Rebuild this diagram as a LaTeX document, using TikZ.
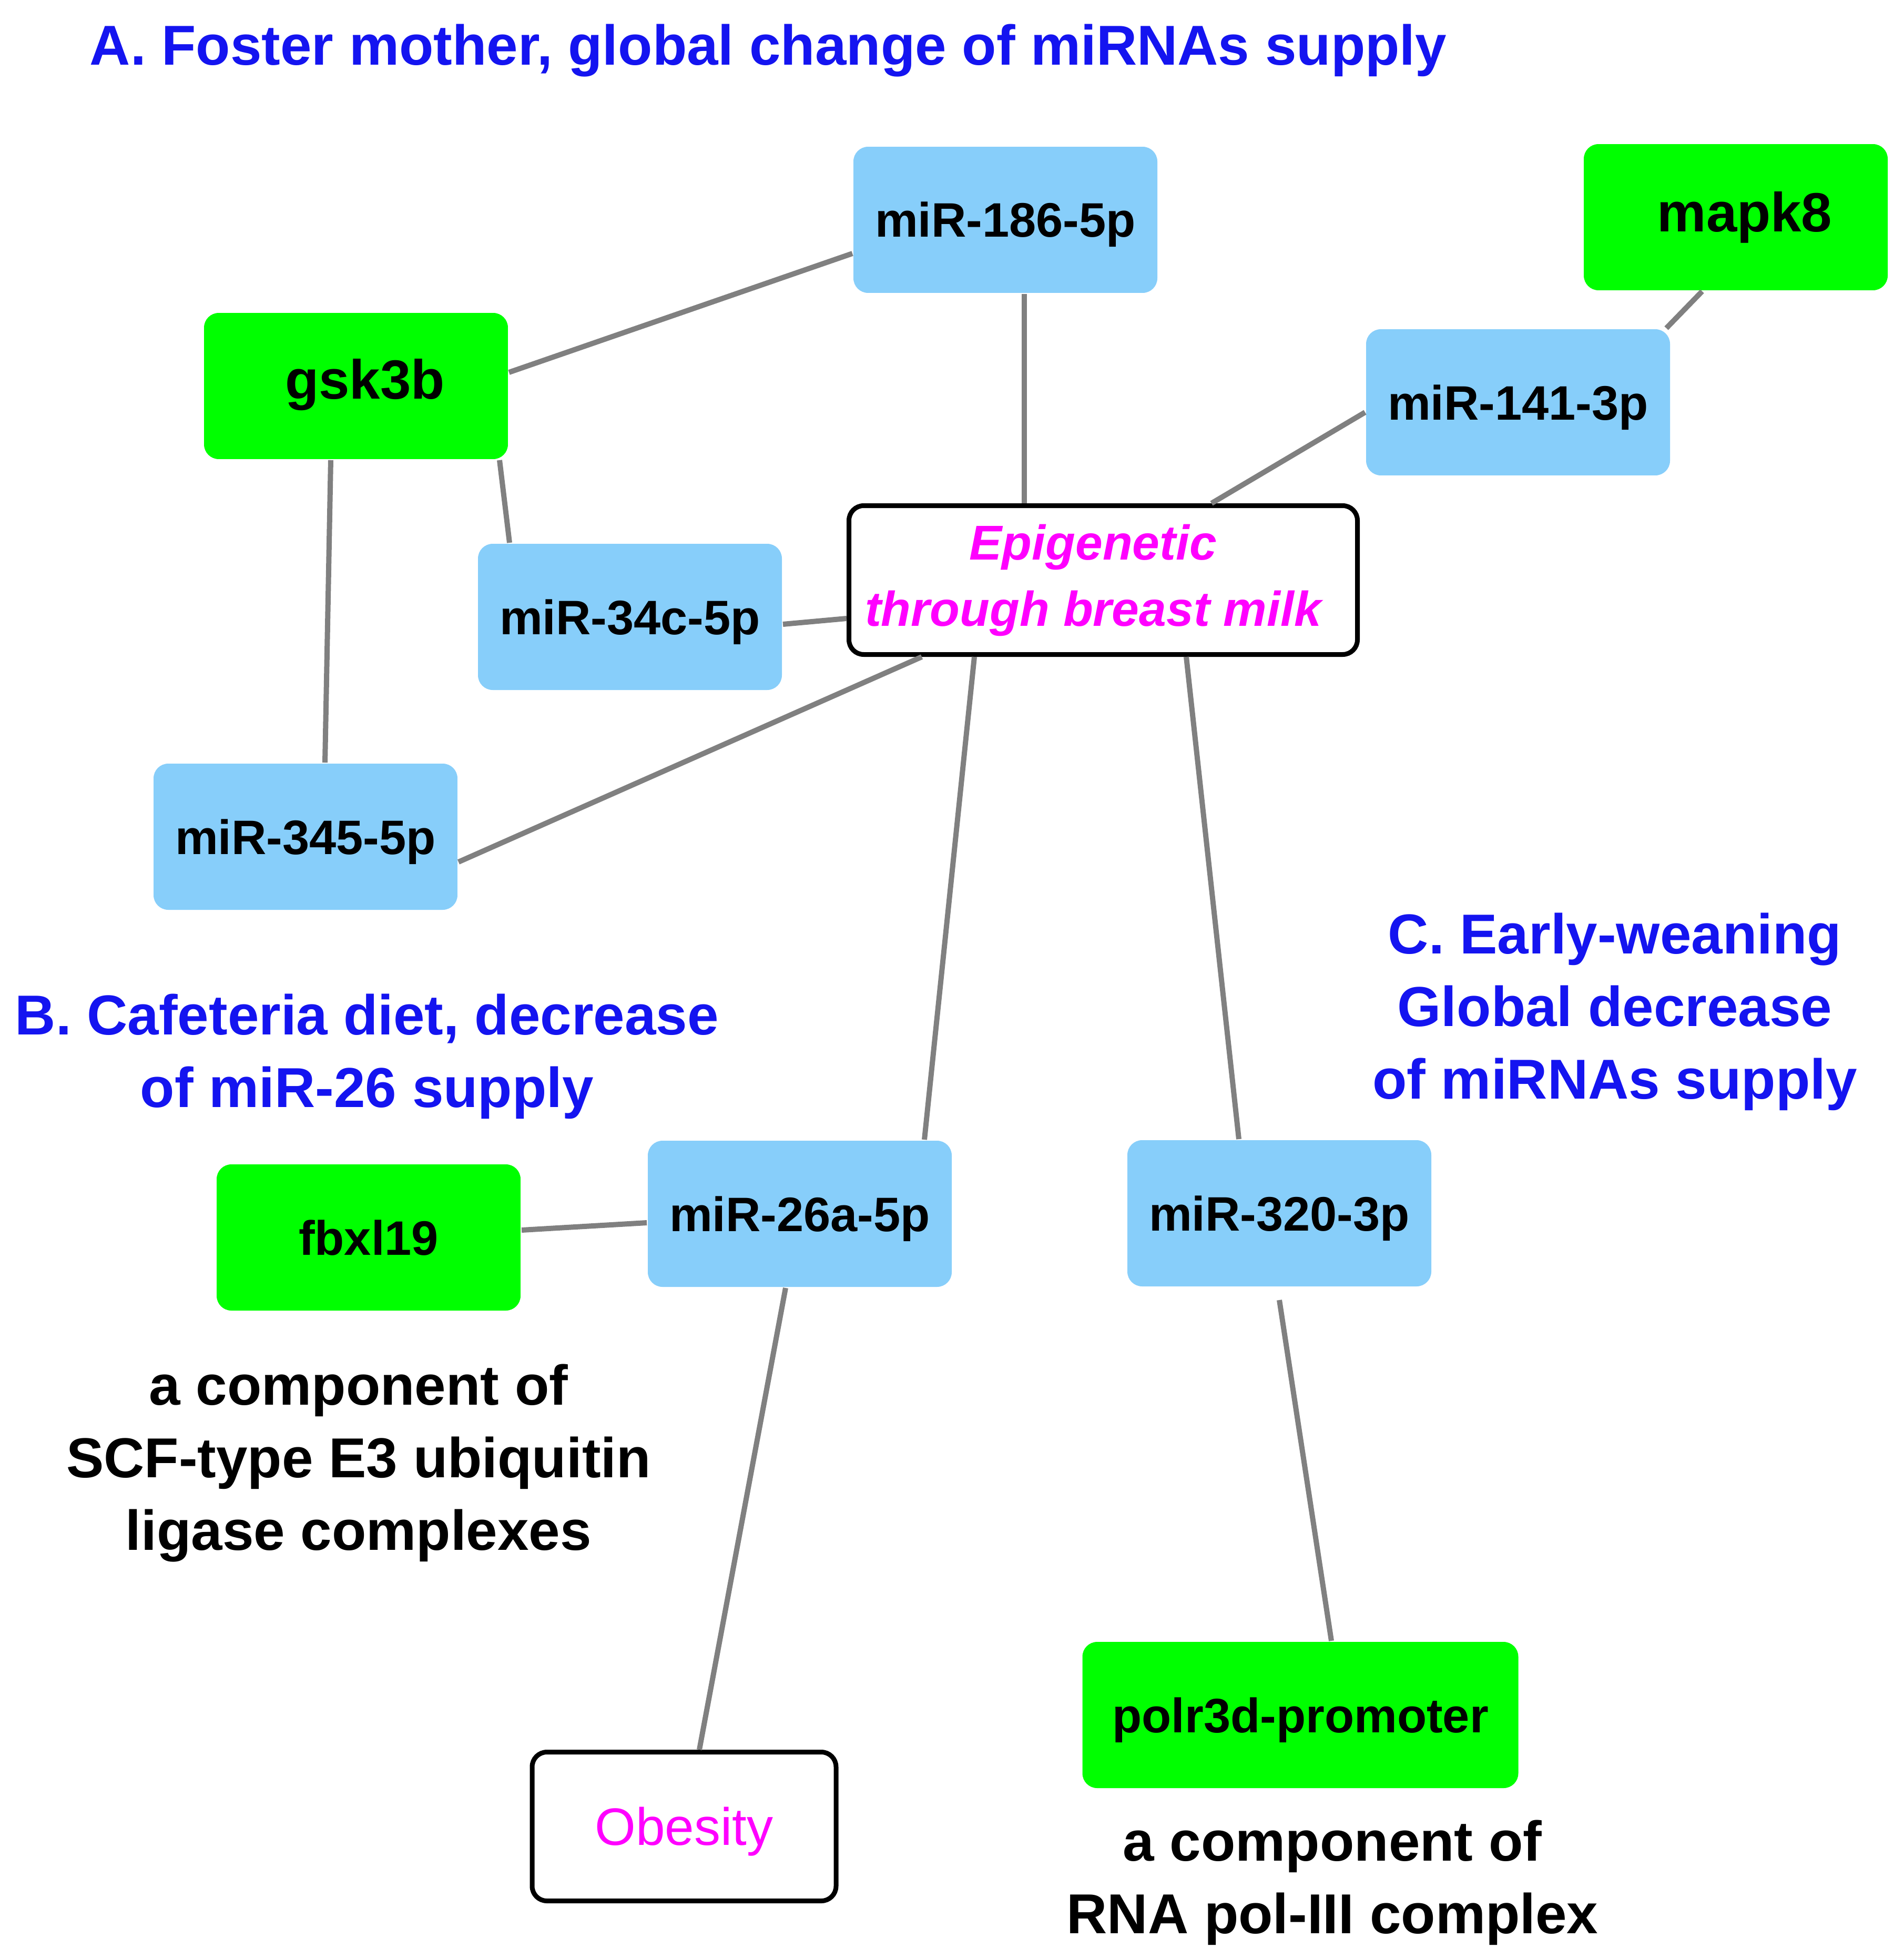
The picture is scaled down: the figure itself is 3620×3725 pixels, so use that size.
\documentclass[tikz,border=0pt]{standalone}
\usepackage{fontspec}
\setmainfont{Liberation Sans}
\usetikzlibrary{calc}
\definecolor{mirblue}{RGB}{135,206,250}
\definecolor{genegreen}{RGB}{0,255,0}
\definecolor{edgegray}{RGB}{128,128,128}
\definecolor{titleblue}{RGB}{20,20,240}
\definecolor{phenomag}{RGB}{255,0,255}
\begin{document}
\begin{tikzpicture}[x=0.1pt,y=-0.1pt,
  box/.style={rounded corners=2.8pt, minimum width=57.8pt, minimum height=27.8pt, inner sep=0pt, align=center},
  mir/.style={box, fill=mirblue, text height=6.6pt, text depth=0pt, font=\fontsize{9.2}{11}\selectfont\bfseries},
  genebig/.style={box, fill=genegreen, font=\fontsize{10.5}{12}\selectfont\bfseries},
  gene/.style={box, fill=genegreen, text height=6.6pt, text depth=0pt, font=\fontsize{9.2}{11}\selectfont\bfseries},
  pheno/.style={box, fill=white, draw=black, line width=0.9pt, text=phenomag},
  edge/.style={draw=edgegray, line width=1pt},
  heading/.style={text=titleblue, font=\fontsize{10.7}{13.8}\selectfont\bfseries, align=center, inner sep=0pt},
  note/.style={text=black, font=\fontsize{10.7}{13.8}\selectfont\bfseries, align=center, inner sep=0pt}]
\fill[white] (0,0) rectangle (3620,3725);
\useasboundingbox (0,0) rectangle (3620,3725);

% headings
\node[heading] (ta) at (1461,96) {A. Foster mother, global change of miRNAs supply};
\node[heading] (tb) at (698,2009) {B. Cafeteria diet, decrease\\of miR-26 supply};
\node[heading] (tc) at (3071,1924) {C. Early-weaning\\Global decrease\\of miRNAs supply};
\node[note] (nscf) at (682,2782) {a component of\\SCF-type E3 ubiquitin\\ligase complexes};
\node[note] (nrna) at (2534,3580) {a component of\\RNA pol-III complex};

% nodes
\node[mir] (m186) at (1912,418) {miR-186-5p};
\node[genebig] (mapk) at (3301,413) {\raisebox{1pt}{\hspace*{3.4pt}mapk8}};
\node[genebig] (gsk) at (677,734) {\raisebox{2.8pt}{\hspace*{3.4pt}gsk3b}};
\node[mir] (m141) at (2887,765) {miR-141-3p};
\node[mir] (m34) at (1198,1173) {miR-34c-5p};
\node[pheno, minimum width=96.7pt, minimum height=28.3pt, font=\fontsize{9.3}{12.6}\selectfont\bfseries\itshape] (epi) at (2098,1103) {\hspace*{-3.8pt}Epigenetic\\\hspace*{-3.8pt}through breast milk};
\node[mir] (m345) at (581,1591) {miR-345-5p};
\node[mir] (m26) at (1521,2308) {miR-26a-5p};
\node[mir] (m320) at (2433,2307) {miR-320-3p};
\node[gene] (fbx) at (701,2353) {fbxl19};
\node[gene, minimum width=82.9pt] (polr) at (2473,3261) {polr3d-promoter};
\node[pheno, minimum height=28.3pt, text height=7pt, text depth=0pt, font=\fontsize{10}{12}\selectfont] (obes) at (1301,3473) {Obesity};

% edges
\draw[edge] ($(gsk.east)+(0,-26)$) -- ($(m186.west)+(0,64)$);
\draw[edge] ($(m186.south)+(36,0)$) -- ($(epi.north)+(-150,0)$);
\draw[edge] ($(mapk.south)+(-64,0)$) -- ($(m141.north east)+(-9,0)$);
\draw[edge] ($(m141.west)+(0,19)$) -- ($(epi.north)+(206,0)$);
\draw[edge] ($(gsk.south)+(273,0)$) -- ($(m34.north)+(-229,0)$);
\draw[edge] ($(gsk.south)+(-48,0)$) -- ($(m345.north)+(37,0)$);
\draw[edge] ($(m34.east)+(0,14)$) -- ($(epi.west)+(0,73)$);
\draw[edge] ($(m345.east)+(0,48)$) -- ($(epi.south)+(-345,0)$);
\draw[edge] ($(epi.south)+(-245,0)$) -- ($(m26.north)+(237,0)$);
\draw[edge] ($(epi.south)+(158,0)$) -- ($(m320.north)+(-77,0)$);
\draw[edge] ($(fbx.east)+(0,-14)$) -- ($(m26.west)+(0,17)$);
\draw[edge] ($(m26.south)+(-27,0)$) -- ($(obes.north)+(29,0)$);
\draw[edge] ($(m320.south)+(0,24)$) -- ($(polr.north)+(59,0)$);
\end{tikzpicture}
\end{document}
